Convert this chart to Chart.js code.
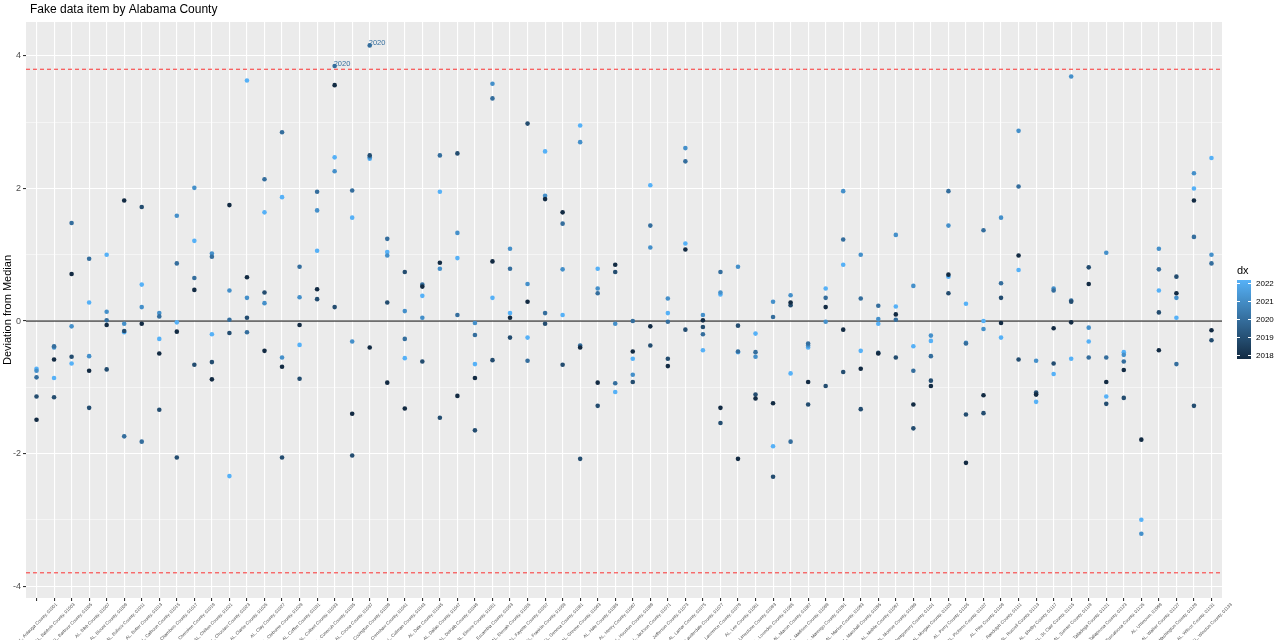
<!DOCTYPE html>
<html>
<head>
    <title>Fake data item by Alabama County</title>
    <style>
        body {
            margin: 0;
            padding: 0;
            background-color: #ffffff;
        }
        canvas {
            display: block;
        }
    </style>
    <script src="https://cdn.jsdelivr.net/npm/chart.js"></script>
</head>
<body>
    <canvas id="countyChart" width="1280" height="640"></canvas>
    <script>
        // categories (x axis)
        const counties = [
            'AL, Autauga County, 01001', 'AL, Baldwin County, 01003', 'AL, Barbour County, 01005', 'AL, Bibb County, 01007',
            'AL, Blount County, 01009', 'AL, Bullock County, 01011', 'AL, Butler County, 01013', 'AL, Calhoun County, 01015',
            'AL, Chambers County, 01017', 'AL, Cherokee County, 01019', 'AL, Chilton County, 01021', 'AL, Choctaw County, 01023',
            'AL, Clarke County, 01025', 'AL, Clay County, 01027', 'AL, Cleburne County, 01029', 'AL, Coffee County, 01031',
            'AL, Colbert County, 01033', 'AL, Conecuh County, 01035', 'AL, Coosa County, 01037', 'AL, Covington County, 01039',
            'AL, Crenshaw County, 01041', 'AL, Cullman County, 01043', 'AL, Dale County, 01045', 'AL, Dallas County, 01047',
            'AL, DeKalb County, 01049', 'AL, Elmore County, 01051', 'AL, Escambia County, 01053', 'AL, Etowah County, 01055',
            'AL, Fayette County, 01057', 'AL, Franklin County, 01059', 'AL, Geneva County, 01061', 'AL, Greene County, 01063',
            'AL, Hale County, 01065', 'AL, Henry County, 01067', 'AL, Houston County, 01069', 'AL, Jackson County, 01071',
            'AL, Jefferson County, 01073', 'AL, Lamar County, 01075', 'AL, Lauderdale County, 01077', 'AL, Lawrence County, 01079',
            'AL, Lee County, 01081', 'AL, Limestone County, 01083', 'AL, Lowndes County, 01085', 'AL, Macon County, 01087',
            'AL, Madison County, 01089', 'AL, Marengo County, 01091', 'AL, Marion County, 01093', 'AL, Marshall County, 01095',
            'AL, Mobile County, 01097', 'AL, Monroe County, 01099', 'AL, Montgomery County, 01101', 'AL, Morgan County, 01103',
            'AL, Perry County, 01105', 'AL, Pickens County, 01107', 'AL, Pike County, 01109', 'AL, Randolph County, 01111',
            'AL, Russell County, 01113', 'AL, Shelby County, 01117', 'AL, St. Clair County, 01115', 'AL, Sumter County, 01119',
            'AL, Talladega County, 01121', 'AL, Tallapoosa County, 01123', 'AL, Tuscaloosa County, 01125', 'AL, Unknown, 01999',
            'AL, Walker County, 01127', 'AL, Washington County, 01129', 'AL, Wilcox County, 01131', 'AL, Winston County, 01133'
        ];

        const years = [2018, 2019, 2020, 2021, 2022];

        // deviation from median, one value per county and year (null = no data)
        const dev2018 = [-1.49, -0.58, 0.71, -0.75, -0.06, 1.82, -0.04, -0.49, -0.16, 0.47, -0.88, 1.75, 0.66, -0.45, -0.69, -0.06, 0.48,
            3.56, -1.40, -0.40, -0.93, -1.32, 0.52, 0.88, -1.13, -0.86, 0.90, 0.05, 0.29, 1.84, 1.64, -0.40, -0.93, 0.85, -0.46,
            -0.08, -0.68, 1.08, 0.01, -1.31, -2.08, -1.17, -1.24, 0.28, -0.92, 0.21, -0.13, -0.72, -0.49, 0.10, -1.26, -0.98, 0.70,
            -2.14, -1.12, -0.03, 0.99, -1.11, -0.11, -0.02, 0.56, -0.92, -0.74, -1.79, -0.44, 0.42, 1.82, -0.14];
        const dev2019 = [-1.14, -1.15, -0.54, -1.31, -0.73, -0.15, 1.72, -1.34, -2.06, -0.66, -0.62, -0.18, 0.05, 0.43, -2.06, -0.87, 0.33,
            0.21, -2.03, 2.50, 0.28, 0.74, -0.61, -1.46, 2.53, -1.65, -0.59, -0.25, 2.98, -0.04, -0.66, -2.08, -1.28, 0.74, -0.92,
            -0.37, -0.57, -0.13, -0.09, -1.54, -0.07, -1.11, -2.35, 0.24, -1.26, -0.98, -0.77, -1.33, -0.48, -0.55, -1.62, -0.90, 0.42,
            -1.41, -1.39, 0.35, -0.58, -1.08, -0.64, 0.29, 0.81, -1.25, -1.16, null, 0.13, 0.67, -1.28, -0.29];
        const dev2020 = [-0.85, -0.38, 1.48, 0.94, 0.01, -1.74, -1.82, 0.07, 0.87, 0.65, 0.97, 0.02, -0.17, 2.14, 2.85, 0.82, 1.95,
            3.85, 1.97, 4.16, 1.24, -0.27, 0.55, 2.50, 0.09, -0.21, 3.36, 0.79, -0.60, 0.12, 1.47, -0.37, 0.42, -0.94, 0.00,
            1.44, -0.01, 2.41, -0.20, 0.74, -0.46, -0.47, 0.06, -1.82, -0.34, 0.35, 1.23, 0.34, 0.23, 0.02, -0.75, -0.53, 1.96,
            -0.34, 1.37, 0.57, 2.03, -1.10, 0.46, 0.31, -0.55, -0.55, -0.61, null, 0.78, -0.65, 1.27, 0.87];
        const dev2021 = [-0.75, -0.40, -0.08, -0.53, 0.14, -0.04, 0.21, 0.12, 1.59, 2.01, 1.02, 0.46, 0.35, 0.27, -0.55, 0.36, 1.67,
            2.26, -0.31, 2.47, 0.99, 0.15, 0.05, 0.79, 1.33, -0.03, 3.58, 1.09, 0.56, 1.89, 0.78, 2.70, 0.49, -0.04, -0.81,
            1.11, 0.34, 2.61, 0.09, 0.43, 0.82, -0.54, 0.29, 0.39, -0.37, -0.01, 1.96, 1.00, 0.03, 1.30, 0.53, -0.22, 1.44,
            -0.33, -0.12, 1.56, 2.87, -0.60, 0.49, 3.69, -0.10, 1.03, -0.51, -3.21, 1.09, 0.35, 2.23, 1.00];
        const dev2022 = [-0.72, -0.86, -0.64, 0.28, 1.00, -0.17, 0.55, -0.27, -0.02, 1.21, -0.20, -2.34, 3.63, 1.64, 1.87, -0.36, 1.06,
            2.47, 1.56, 2.45, 1.04, -0.56, 0.38, 1.95, 0.95, -0.65, 0.35, 0.12, -0.25, 2.56, 0.09, 2.95, 0.79, -1.07, -0.57,
            2.05, 0.12, 1.17, -0.44, 0.40, -0.47, -0.19, -1.89, -0.79, -0.40, 0.49, 0.85, -0.45, -0.04, 0.22, -0.38, -0.30, 0.67,
            0.26, 0.00, -0.25, 0.77, -1.22, -0.80, -0.57, -0.31, -1.14, -0.47, -3.00, 0.46, 0.05, 2.00, 2.46];

        const deviations = [dev2018, dev2019, dev2020, dev2021, dev2022];

        // reference lines
        const thresholds = [3.8, -3.8];
        const medianLine = [0];
        const yTicks = [-4, -3, -2, -1, 0, 1, 2, 3, 4];

        const fontFamily = "'Liberation Sans', Arial, sans-serif";
        const lowColor = [0x13, 0x2B, 0x43];
        const highColor = [0x56, 0xB1, 0xF7];

        function yearColor(year) {
            let t = (year - years[0]) / (years[years.length - 1] - years[0]);
            let c = lowColor.map((v, k) => Math.round(v + (highColor[k] - v) * t));
            return 'rgb(' + c.join(',') + ')';
        }

        const xMin = -0.6;
        const xMax = counties.length - 1 + 0.6;

        let datasets = [];

        years.forEach((year, j) => {
            let points = [];
            deviations[j].forEach((v, i) => {
                if (v !== null) points.push({ x: i, y: v });
            });
            datasets.push({
                type: 'scatter',
                label: String(year),
                year: year,
                data: points,
                backgroundColor: yearColor(year),
                borderWidth: 0,
                pointRadius: 2.3,
                pointHoverRadius: 2.3,
                order: 1
            });
        });

        medianLine.forEach(v => {
            datasets.push({
                type: 'line',
                data: [{ x: xMin, y: v }, { x: xMax, y: v }],
                borderColor: '#000000',
                borderWidth: 1,
                pointRadius: 0,
                order: 2
            });
        });

        thresholds.forEach(v => {
            datasets.push({
                type: 'line',
                data: [{ x: xMin, y: v }, { x: xMax, y: v }],
                borderColor: '#FF0000',
                borderWidth: 0.8,
                borderDash: [4, 3],
                pointRadius: 0,
                order: 2
            });
        });

        // grey panel behind the plot
        const panelBackground = {
            id: 'panelBackground',
            beforeDraw(chart) {
                const { ctx, chartArea } = chart;
                ctx.save();
                ctx.fillStyle = '#EBEBEB';
                ctx.fillRect(chartArea.left, chartArea.top, chartArea.right - chartArea.left, chartArea.bottom - chartArea.top);
                ctx.restore();
            }
        };

        // year labels on points beyond the upper threshold, title and colour bar
        const extras = {
            id: 'extras',
            afterDatasetsDraw(chart) {
                const ctx = chart.ctx;
                const xs = chart.scales.x;
                const ys = chart.scales.y;
                ctx.save();
                ctx.font = '7.5px ' + fontFamily;
                ctx.textAlign = 'left';
                ctx.textBaseline = 'middle';
                years.forEach((year, j) => {
                    deviations[j].forEach((v, i) => {
                        if (v !== null && v > thresholds[0]) {
                            ctx.fillStyle = yearColor(year);
                            ctx.fillText(String(year), xs.getPixelForValue(i) - 1, ys.getPixelForValue(v) - 2);
                        }
                    });
                });
                ctx.restore();
            },
            afterDraw(chart) {
                const ctx = chart.ctx;
                ctx.save();

                ctx.fillStyle = '#000000';
                ctx.font = '12px ' + fontFamily;
                ctx.textAlign = 'left';
                ctx.textBaseline = 'alphabetic';
                ctx.fillText('Fake data item by Alabama County', 30, 13);

                // legend
                const barX = 1237, barW = 14, barTop = 280, barBottom = 359;
                ctx.font = '11px ' + fontFamily;
                ctx.fillText('dx', barX, 274);

                const grad = ctx.createLinearGradient(0, barBottom, 0, barTop);
                years.forEach((year, j) => {
                    grad.addColorStop(j / (years.length - 1), yearColor(year));
                });
                ctx.fillStyle = grad;
                ctx.fillRect(barX, barTop, barW, barBottom - barTop);

                const lo = barBottom - 3.5, hi = barTop + 3.5;
                ctx.font = '8px ' + fontFamily;
                ctx.textBaseline = 'middle';
                years.forEach((year, j) => {
                    let y = lo + (hi - lo) * j / (years.length - 1);
                    ctx.strokeStyle = '#ffffff';
                    ctx.lineWidth = 1;
                    ctx.beginPath();
                    ctx.moveTo(barX, y);
                    ctx.lineTo(barX + 3, y);
                    ctx.moveTo(barX + barW - 3, y);
                    ctx.lineTo(barX + barW, y);
                    ctx.stroke();
                    ctx.fillStyle = '#000000';
                    ctx.fillText(String(year), barX + barW + 5, y);
                });

                ctx.restore();
            }
        };

        new Chart(document.getElementById('countyChart'), {
            data: { datasets: datasets },
            options: {
                responsive: false,
                animation: false,
                layout: { padding: { left: 0, right: 58, top: 22, bottom: 0 } },
                plugins: {
                    legend: { display: false },
                    tooltip: { enabled: false }
                },
                scales: {
                    x: {
                        type: 'linear',
                        min: xMin,
                        max: xMax,
                        offset: false,
                        afterBuildTicks: scale => {
                            scale.ticks = counties.map((c, i) => ({ value: i }));
                        },
                        afterFit: scale => {
                            scale.height = 42;
                            scale.paddingLeft = 0;
                            scale.paddingRight = 0;
                        },
                        border: { display: false },
                        grid: {
                            color: '#ffffff',
                            lineWidth: 1.1,
                            tickLength: 3,
                            tickColor: '#333333'
                        },
                        ticks: {
                            autoSkip: false,
                            minRotation: 45,
                            maxRotation: 45,
                            padding: 1,
                            labelOffset: 20,
                            color: '#4D4D4D',
                            font: { size: 4.5, family: fontFamily },
                            callback: value => counties[value]
                        }
                    },
                    y: {
                        type: 'linear',
                        min: -4.18,
                        max: 4.513,
                        afterBuildTicks: scale => {
                            scale.ticks = yTicks.map(v => ({ value: v }));
                        },
                        afterFit: scale => {
                            scale.width = 26;
                        },
                        border: { display: false },
                        grid: {
                            color: '#ffffff',
                            lineWidth: ctx => (ctx.tick && Math.abs(ctx.tick.value) % 2 === 0) ? 1.1 : 0.5,
                            tickLength: 3,
                            tickColor: ctx => (ctx.tick && Math.abs(ctx.tick.value) % 2 === 0) ? '#333333' : 'rgba(0,0,0,0)'
                        },
                        ticks: {
                            padding: 2,
                            color: '#4D4D4D',
                            font: { size: 9, family: fontFamily },
                            callback: value => (Math.abs(value) % 2 === 0) ? String(value) : ''
                        },
                        title: {
                            display: true,
                            text: 'Deviation from Median',
                            color: '#000000',
                            font: { size: 11, family: fontFamily },
                            padding: { top: 1, bottom: 0 }
                        }
                    }
                }
            },
            plugins: [panelBackground, extras]
        });
    </script>
</body>
</html>
